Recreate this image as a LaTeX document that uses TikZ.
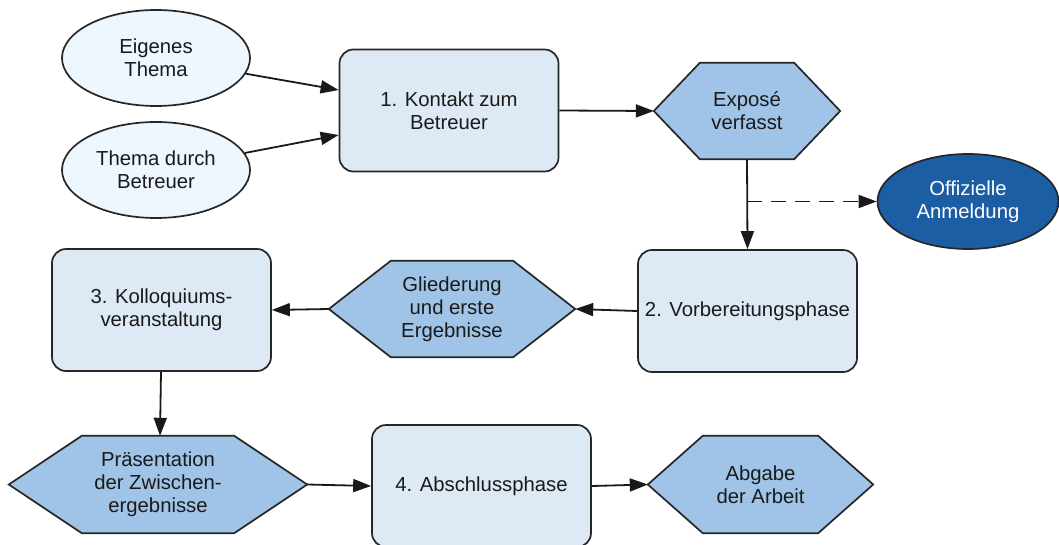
\documentclass[tikz,border=0pt]{standalone}
\usepackage{fontspec}
\setmainfont{Liberation Sans}
\usetikzlibrary{arrows.meta,shapes.geometric,backgrounds,calc}
\definecolor{boxfill}{RGB}{221,233,245}
\definecolor{hexfill}{RGB}{159,196,231}
\definecolor{ellfill}{RGB}{238,246,254}
\definecolor{darkell}{RGB}{27,94,163}
\definecolor{txt}{RGB}{26,26,26}
\newcommand{\hexoutline}[2]{%
  \draw[hexdraw] (#1.west) -- ([xshift=#2]#1.north west) -- ([xshift=-#2]#1.north east)
    -- (#1.east) -- ([xshift=-#2]#1.south east) -- ([xshift=#2]#1.south west) -- cycle;}
\tikzset{
  base/.style={align=center, text=txt, font=\fontsize{20.3}{23}\selectfont, inner sep=0pt},
  phasebox/.style={base, draw=black!85, line width=1.7pt, fill=boxfill, rounded corners=14pt,
    minimum width=219pt, minimum height=122pt},
  hexnode/.style={base, minimum width=#1},
  hexdraw/.style={draw=black!85, line width=1.7pt, fill=hexfill, line join=miter},
  lightell/.style={base, ellipse, draw=black!85, line width=1.7pt, fill=ellfill,
    minimum width=188pt, minimum height=96pt},
  darkellipse/.style={base, ellipse, draw=black!85, line width=1.7pt, fill=darkell, text=white,
    minimum width=181pt, minimum height=95pt},
  conn/.style={line width=1.8pt, draw=black!90, -{Triangle[length=18pt,width=13pt]}},
  dashconn/.style={conn, dash pattern=on 15pt off 9pt}
}
\begin{document}
\begin{tikzpicture}[x=1pt,y=-1pt]
\useasboundingbox (0,0) rectangle (1059,545);
% ellipses
\node[lightell] (e1) at (156,58) {Eigenes\\Thema};
\node[lightell] (e2) at (156,170) {Thema durch\\Betreuer};
\node[darkellipse] (off) at (968,201.5) {Offizielle\\Anmeldung};
% boxes
\node[phasebox] (b1) at (449,110.5) {1. Kontakt zum\\Betreuer};
\node[phasebox] (b2) at (747.5,311) {2. Vorbereitungsphase};
\node[phasebox] (b3) at (161.5,310) {3. Kolloquiums-\\veranstaltung};
\node[phasebox] (b4) at (481.5,486) {4. Abschlussphase};
% hexagons
\node[hexnode=186pt, minimum height=96pt] (ex) at (747,111) {Exposé\\verfasst};
\node[hexnode=246pt, minimum height=96pt] (gl) at (452,309) {Gliederung\\und erste\\Ergebnisse};
\node[hexnode=298pt, minimum height=97pt] (pr) at (158,484.5) {Präsentation\\der Zwischen-\\ergebnisse};
\node[hexnode=225pt, minimum height=97pt] (ab) at (760.5,484.5) {Abgabe\\der Arbeit};
\begin{scope}[on background layer]
  \hexoutline{ex}{46}
  \hexoutline{gl}{62}
  \hexoutline{pr}{73}
  \hexoutline{ab}{55}
\end{scope}
% connectors
\draw[conn] (e1) -- ([yshift=20.5pt]b1.west);
\draw[conn] (e2) -- ([yshift=-24.5pt]b1.west);
\draw[conn] (b1.east) -- (ex.west);
\draw[conn] (ex.south) -- (b2.north);
\coordinate (split) at (ex.south |- off.west);
\draw[dashconn] (split) -- (off.west);
\draw[conn] (b2.west) -- (gl.east);
\draw[conn] (gl.west) -- (b3.east);
\draw[conn] ([xshift=-0.5pt]b3.south) -- ([xshift=2pt]pr.north);
\draw[conn] (pr.east) -- (b4.west);
\draw[conn] (b4.east) -- (ab.west);
\end{tikzpicture}
\end{document}
